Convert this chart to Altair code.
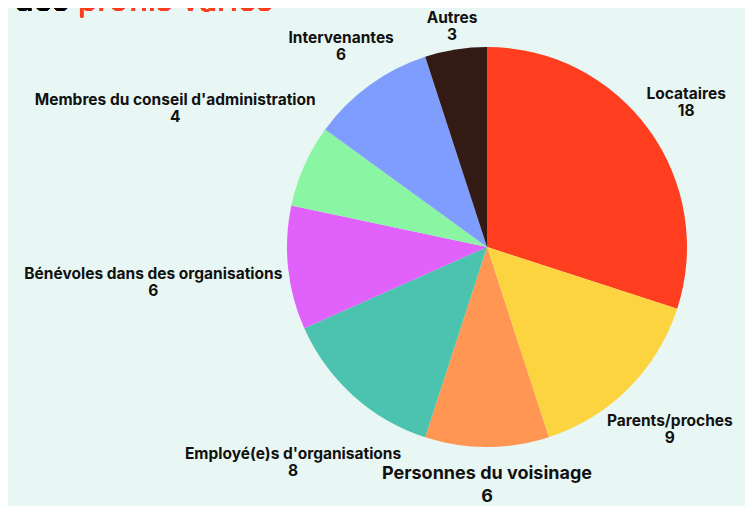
import altair as alt
import pandas as pd

categories = [
    "Locataires",
    "Parents/proches",
    "Personnes du voisinage",
    "Employé(e)s d'organisations",
    "Bénévoles dans des organisations",
    "Membres du conseil d'administration",
    "Intervenantes",
    "Autres",
]
values = [18, 9, 6, 8, 6, 4, 6, 3]
colors = ["#FF3D1F", "#FCD43F", "#FF9653", "#4BC3AF", "#E062FA", "#8AF5A3", "#7F9CFF", "#331A15"]

title_plain = "des"
title_accent = "profils variés"

W, H = 737, 498
CX, CY, R = 479, 239, 200
GAP = 203
BIG = "Personnes du voisinage"
FS, FS_BIG = 15.5, 18
LH, LH_BIG = 17, 23
EXTRA_H_BIG = 24
FONT = "Inter"

df = pd.DataFrame({"label": categories, "value": values, "idx": list(range(len(categories)))})

base = alt.Chart(df)

pie = base.mark_arc(radius=R).encode(
    theta=alt.Theta("value:Q", stack=True),
    order=alt.Order("idx:Q"),
    color=alt.Color("label:N", scale=alt.Scale(domain=categories, range=colors), legend=None),
    x=alt.value(CX),
    y=alt.value(CY),
)

def label_layer(big):
    fs = FS_BIG if big else FS
    lh = LH_BIG if big else LH
    hbox = 2 * lh + (EXTRA_H_BIG if big else 0)
    cond = f"datum.label {'==' if big else '!='} '{BIG}'"
    return (
        base.transform_window(cum="sum(value)", sort=[{"field": "idx"}], frame=[None, 0])
        .transform_joinaggregate(total="sum(value)")
        .transform_filter(cond)
        .transform_calculate(mid="(datum.cum - datum.value/2) / datum.total * 2 * PI")
        .transform_calculate(w=f"length(datum.label) * 0.53 * {fs}", h=f"{hbox}")
        .transform_calculate(d=f"{GAP} + abs(sin(datum.mid)) * datum.w / 2 + abs(cos(datum.mid)) * datum.h / 2")
        .transform_calculate(
            lx=f"{CX} + sin(datum.mid) * datum.d",
            ly=f"{CY} - cos(datum.mid) * datum.d - {lh / 2}",
            txt="[datum.label, '' + datum.value]",
        )
        .mark_text(font=FONT, fontWeight="bold", fontSize=fs, lineHeight=lh, color="#111111",
                   align="center", baseline="middle")
        .encode(
            x=alt.X("lx:Q", scale=None, axis=None),
            y=alt.Y("ly:Q", scale=None, axis=None),
            text="txt:N",
        )
    )

t1 = alt.Chart(df).mark_text(text=title_plain, font=FONT, fontSize=32, align="left",
                               baseline="alphabetic", color="#000000").encode(
    x=alt.value(6), y=alt.value(3))
t2 = alt.Chart(df).mark_text(text=title_accent, font=FONT, fontSize=32, align="left",
                               baseline="alphabetic", color="#FF3D1F").encode(
    x=alt.value(70), y=alt.value(3))

chart = alt.layer(pie, label_layer(False), label_layer(True), t1, t2).properties(
    width=W, height=H, background="#E8F7F3", padding=0,
    autosize=alt.AutoSizeParams(type="none"),
).configure_view(stroke=None)

chart.save("out.html", embed_options={"renderer": "svg", "actions": False})
